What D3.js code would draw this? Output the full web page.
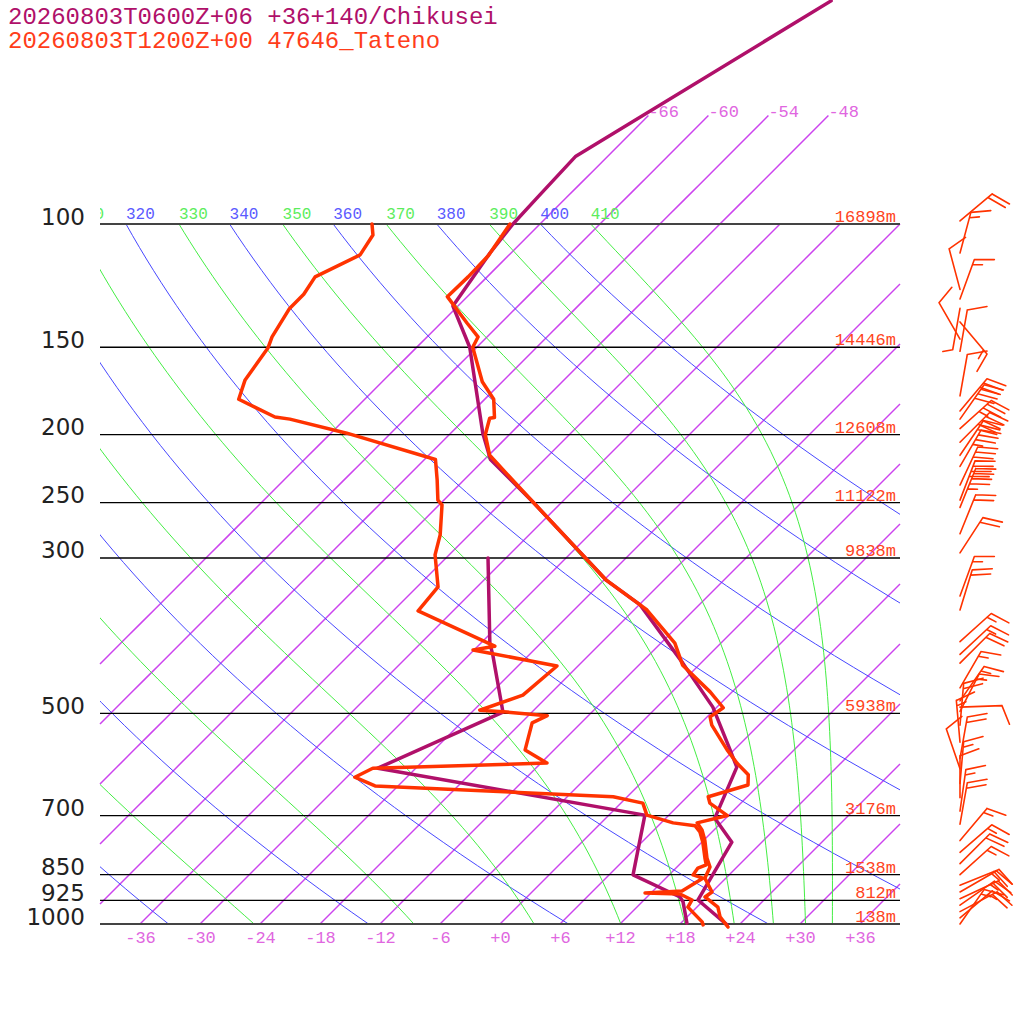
<!doctype html>
<html lang="en">
<head>
  <meta charset="utf-8">
  <script src="https://d3js.org/d3.v7.min.js"></script>
  <style>
    body { margin: 0; background: #fff; }
    svg { display: block; }
  </style>
</head>
<body>
  <svg id="skewt" width="1024" height="1024"></svg>
  <script>
    // titles
    const titleFcst = "20260803T0600Z+06 +36+140/Chikusei";
    const titleObs = "20260803T1200Z+00 47646_Tateno";

    // isobars and their heights (observed)
    const pLevels = [100, 150, 200, 250, 300, 500, 700, 850, 925, 1000];
    const heights = ["16898m", "14446m", "12608m", "11122m", "9838m", "5938m", "3176m", "1538m", "812m", "138m"];

    // background lines
    const isotherms = d3.range(-66, 37, 6);
    const dryThetas = d3.range(200, 401, 20);
    const moistThetaEs = d3.range(250, 411, 20);
    const tempTicks = d3.range(-36, 37, 6);

    // observed (Tateno) temperature, hPa / degC
    const obsTempP = [100, 111, 119, 127, 138.5, 145, 150, 168, 178, 189, 189.5, 200, 214, 250, 323, 350, 356, 397, 427, 466,
      491, 506, 520, 564, 589, 612, 633, 658, 672, 700, 717, 734, 759, 805, 829, 860, 900, 915, 946, 977, 1010];
    const obsTemp = [-69.0, -68.0, -67.9, -68.0, -63.4, -60.9, -60.4, -56.0, -53.1, -51.2, -51.6, -50.4, -47.9, -38.8, -23.7, -17.9, -16.7, -10.6, -7.6, -2.2,
      0.7, 0.3, 1.3, 5.3, 7.6, 9.9, 10.9, 8.1, 8.9, 11.9, 9.6, 10.8, 12.1, 14.1, 15.3, 15.9, 18.0, 17.8, 20.1, 21.3, 23.1];

    // observed dew point
    const obsDewP = [100, 103.7, 110.7, 119, 126, 132, 145, 150.4, 167, 178, 188.7, 190, 199, 217, 232, 248, 252, 278, 297, 330,
      357, 396, 401, 406, 428, 471, 495, 498, 504, 516, 564, 589, 599, 617, 635, 658, 672, 699, 717, 724,
      739, 764, 805, 823, 832, 851, 860, 897, 903, 906, 924, 946, 993, 1003];
    const obsDew = [-82.8, -81.6, -80.9, -83.2, -82.6, -82.6, -81.5, -80.8, -79.9, -78.6, -73.2, -71.5, -64.4, -52.9, -50.7, -48.6, -47.7, -44.9, -43.4, -39.9,
      -39.5, -29.5, -28.3, -30.1, -20.1, -20.6, -23.4, -20.5, -16.1, -16.9, -14.9, -11.4, -28.3, -29.2, -26.3, -1.4, 2.2, 3.8, 7.2, 9.7,
      10.8, 12.1, 13.9, 14.7, 14.2, 14.4, 15.7, 14.9, 11.4, 15.0, 16.8, 17.1, 20.0, 20.4];

    // forecast (Chikusei) temperature and dew point
    const fcTempP = [48, 80, 92, 100, 110, 131, 150, 199, 217, 250, 323, 350, 424, 490, 564, 597, 706, 764, 924, 1003];
    const fcTemp = [-59.2, -69.2, -68.9, -68.7, -68.1, -66.5, -60.7, -50.8, -47.4, -38.8, -23.7, -17.9, -7.8, -0.4, 5.6, 8.0, 10.9, 15.0, 17.4, 22.8];
    const fcDewP = [300, 397, 413, 498, 599, 699, 851, 915, 930, 997];
    const fcDew = [-37.8, -29.1, -27.6, -20.9, -27.8, 3.6, 8.4, 15.3, 16.1, 18.6];

    // observed winds: pressure, direction (deg from), speed (kt)
    const windP = [99, 110, 124, 128, 132, 138, 146, 152, 176, 185, 190, 196, 205, 214, 222, 236, 248, 254, 277, 295,
      340, 356, 395, 412, 424, 460, 480, 490, 497, 520, 550, 580, 600, 630, 660, 690, 720, 760, 790, 820,
      850, 880, 900, 920, 940, 960, 980, 1000];
    const windDir = [50, 15, 345, 20, 190, 140, 330, 10, 10, 40, 35, 48, 45, 34, 30, 25, 21, 22, 22, 33,
      20, 17, 48, 47, 45, 30, 35, 88, 27, 5, 355, 10, 341, 5, 0, 8, 10, 40, 49, 45,
      48, 68, 60, 65, 55, 62, 50, 35];
    const windSpd = [20, 15, 10, 15, 5, 15, 10, 10, 10, 30, 40, 35, 40, 30, 35, 30, 40, 45, 20, 20,
      15, 20, 15, 15, 20, 15, 15, 10, 15, 20, 15, 20, 10, 15, 10, 15, 20, 15, 15, 20,
      15, 20, 15, 20, 15, 20, 15, 15];

    const colFc = "#b0106a", colObs = "#ff3300";
    const mono = "Liberation Mono, monospace";

    const svg = d3.select("#skewt");
    svg.append("rect").attr("width", 1024).attr("height", 1024).attr("fill", "#fff");

    const x = d3.scaleLinear().domain([-40, 40]).range([100, 900]);
    const y = d3.scaleLog().domain([100, 1000]).range([224, 924]);
    const skewX = (t, p) => x(t) + (y(1000) - y(p));

    const defs = svg.append("defs");
    defs.append("clipPath").attr("id", "plot")
      .append("rect").attr("x", 100).attr("y", 224).attr("width", 800).attr("height", 700);

    const line = d3.line().x(d => skewX(d[1], d[0])).y(d => y(d[0]));
    const logPs = (p0, p1, n) => d3.range(n + 1).map(i => p0 * Math.pow(p1 / p0, i / n));

    // isotherms, cut to the frame through the scales
    const [xL, xR] = x.range();
    const isoSeg = t => {
      const pBot = Math.min(1000, y.invert(x(t) + y(1000) - xL));
      const pTop = Math.max(t <= -48 ? 70 : 100, y.invert(x(t) + y(1000) - xR));
      return logPs(pBot, pTop, 40).map(p => [p, t]);
    };
    svg.append("g").selectAll("path").data(isotherms).join("path")
      .attr("d", t => line(isoSeg(t)))
      .attr("fill", "none").attr("stroke", "#cc44ee").attr("stroke-width", 1.5);

    svg.append("g").selectAll("text").data(isotherms.filter(t => t <= -48)).join("text")
      .attr("x", t => skewX(t, 70)).attr("y", y(70) + 1.5)
      .attr("font-family", mono).attr("font-size", 17).attr("fill", "#e066e0")
      .text(t => t);

    // dry adiabats
    const kappa = 0.2857;
    const dryT = (th, p) => th * Math.pow(p / 1000, kappa) - 273.15;
    const bg = svg.append("g").attr("clip-path", "url(#plot)");
    bg.selectAll(".dry").data(dryThetas).join("path").attr("class", "dry")
      .attr("d", th => line(logPs(1000, 100, 60).map(p => [p, dryT(th, p)])))
      .attr("fill", "none").attr("stroke", "#4848ff").attr("stroke-width", 1);

    // pseudo-adiabats by equivalent potential temperature (Bolton)
    function thetaE(tk, p) {
      const tc = tk - 273.15;
      const es = 6.112 * Math.exp(17.67 * tc / (tc + 243.5));
      if (es > 0.6 * p) return 1e9;
      const r = 622 * es / (p - es);
      return tk * Math.pow(1000 / p, 0.2854 * (1 - 0.00028 * r)) *
        Math.exp((3.376 / tk - 0.00254) * r * (1 + 0.00081 * r));
    }
    function moistT(te, p) {
      let lo = 150, hi = 340;
      for (let i = 0; i < 50; i++) {
        const mid = (lo + hi) / 2;
        if (thetaE(mid, p) < te) lo = mid; else hi = mid;
      }
      return (lo + hi) / 2 - 273.15;
    }
    bg.selectAll(".moist").data(moistThetaEs).join("path").attr("class", "moist")
      .attr("d", te => line(logPs(1000, 100, 80).map(p => [p, moistT(te, p)])))
      .attr("fill", "none").attr("stroke", "#44ee44").attr("stroke-width", 1);

    // adiabat labels at 100 hPa (only those reaching into the plot)
    defs.append("clipPath").attr("id", "labels")
      .append("rect").attr("x", 100).attr("y", 190).attr("width", 800).attr("height", 40);
    const topLabels = dryThetas.map(th => ({ v: th, t: dryT(th, 100), c: "#5a5aff" }))
      .concat(moistThetaEs.map(te => ({ v: te, t: moistT(te, 100), c: "#5ced5c" })))
      .filter(d => skewX(d.t, 100) > 70);
    svg.append("g").attr("clip-path", "url(#labels)")
      .selectAll("text").data(topLabels).join("text")
      .attr("x", d => skewX(d.t, 100)).attr("y", 219)
      .attr("font-family", mono).attr("font-size", 16).attr("fill", d => d.c)
      .text(d => d.v);

    // isobars
    svg.append("g").selectAll("line").data(pLevels).join("line")
      .attr("x1", xL).attr("x2", xR).attr("y1", p => y(p)).attr("y2", p => y(p))
      .attr("stroke", p => (p === 100 || p === 1000) ? "#444" : "#000")
      .attr("stroke-width", p => (p === 100 || p === 1000) ? 2 : 1.3);

    // pressure axis
    svg.append("g").attr("transform", "translate(85,0)")
      .call(d3.axisLeft(y).tickValues(pLevels).tickFormat(d3.format("d")).tickSize(0).tickPadding(0))
      .call(g => g.select(".domain").remove())
      .call(g => g.selectAll("text").attr("dy", 0)
        .attr("font-family", "DejaVu Sans, sans-serif").attr("font-size", 23).attr("fill", "#222"));

    // temperature axis
    svg.append("g").attr("transform", `translate(0,${y(1000)})`)
      .call(d3.axisBottom(x).tickValues(tempTicks).tickSize(0).tickPadding(7)
        .tickFormat(t => (t >= 0 ? "+" : "-") + Math.abs(t)))
      .call(g => g.select(".domain").remove())
      .call(g => g.selectAll("text").attr("font-family", mono).attr("font-size", 17).attr("fill", "#e066e0"));

    // heights
    svg.append("g").selectAll("text").data(pLevels).join("text")
      .attr("x", 896).attr("y", p => y(p) - 2).attr("text-anchor", "end")
      .attr("font-family", mono).attr("font-size", 17).attr("fill", "#ff4422")
      .text((p, i) => heights[i]);

    // profiles
    const profile = (ps, ts, col) => svg.append("path")
      .attr("d", line(ps.map((p, i) => [p, ts[i]])))
      .attr("fill", "none").attr("stroke", col).attr("stroke-width", 3.5)
      .attr("stroke-linejoin", "round").attr("stroke-linecap", "round");
    profile(fcDewP, fcDew, colFc);
    profile(fcTempP, fcTemp, colFc);
    profile(obsDewP, obsDew, colObs);
    profile(obsTempP, obsTemp, colObs);

    // wind barbs
    const barbX = 960, shaft = 42, flag = 20, gap = 5.5;
    const dirVec = a => [Math.sin(a * Math.PI / 180), -Math.cos(a * Math.PI / 180)];
    const barbs = svg.append("g").attr("stroke", colObs).attr("stroke-width", 1.6).attr("fill", "none")
      .attr("stroke-linecap", "round");
    windP.forEach((p, i) => {
      const d = windDir[i], s = windSpd[i];
      const u = dirVec(d), f = dirVec(d + 70);
      const x0 = barbX, y0 = y(p);
      const tx = x0 + u[0] * shaft, ty = y0 + u[1] * shaft;
      let path = `M${x0},${y0}L${tx},${ty}`;
      const full = Math.floor(s / 10), half = (s % 10) >= 5 ? 1 : 0;
      for (let k = 0; k < full + half; k++) {
        const bx = tx - u[0] * gap * k, by = ty - u[1] * gap * k;
        const len = k < full ? flag : flag / 2;
        path += `M${bx},${by}L${bx + f[0] * len},${by + f[1] * len}`;
      }
      barbs.append("path").attr("d", path);
    });

    // titles
    svg.append("text").attr("x", 8).attr("y", 24)
      .attr("font-family", mono).attr("font-size", 24).attr("fill", colFc).text(titleFcst);
    svg.append("text").attr("x", 8).attr("y", 48)
      .attr("font-family", mono).attr("font-size", 24).attr("fill", "#ff3d1a").text(titleObs);
  </script>
</body>
</html>
